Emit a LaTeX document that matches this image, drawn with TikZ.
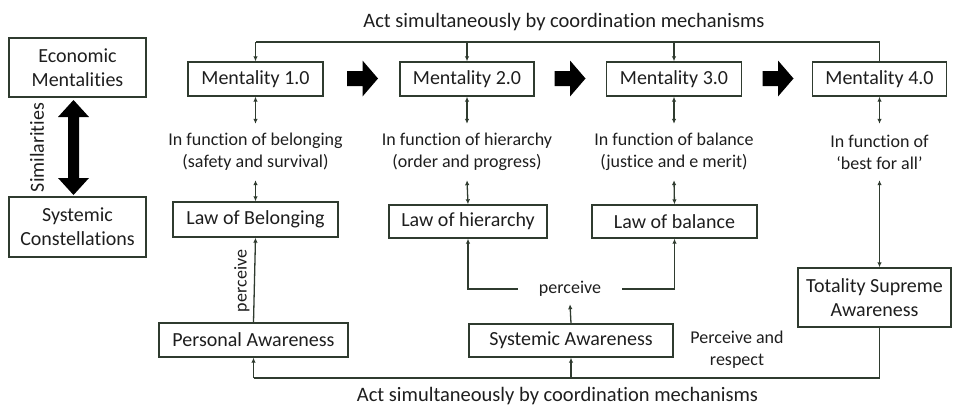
\documentclass[tikz,border=0pt]{standalone}
\usepackage{fontspec}
\setmainfont{Carlito}[Ligatures=NoCommon]
\usetikzlibrary{arrows.meta}
\definecolor{lc}{HTML}{2F3B2F}
\definecolor{tc}{HTML}{1E1E1E}
\begin{document}
\begin{tikzpicture}[x=1pt,y=-1pt,
  box/.style={draw=lc, line width=1.4pt, inner sep=0pt, align=center, text=tc, font=\fontsize{20}{24}\selectfont},
  lbl/.style={inner sep=0pt, align=center, text=tc, font=\fontsize{18}{22}\selectfont},
  conn/.style={draw=lc, line width=1.3pt},
  tip/.style={-{Latex[length=5pt,width=4.5pt]}},
  dtip/.style={{Latex[length=5pt,width=4.5pt]}-{Latex[length=5pt,width=4.5pt]}},
  blockarr/.pic={\fill[black] (-15.5,-7.5) -- (0,-7.5) -- (0,-18) -- (15.5,0) -- (0,18) -- (0,7.5) -- (-15.5,7.5) -- cycle;},
  dblarr/.pic={\fill[black] (0,-47.5) -- (15.5,-30.5) -- (5.5,-30.5) -- (5.5,30.5) -- (15.5,30.5) -- (0,47.5) -- (-15.5,30.5) -- (-5.5,30.5) -- (-5.5,-30.5) -- (-15.5,-30.5) -- cycle;}
]
\useasboundingbox (0,0) rectangle (953,407);
% left column
\node[box, minimum width=137pt, minimum height=59pt] (EM) at (77.5,67.5) {Economic\\Mentalities};
\node[box, minimum width=137pt, minimum height=60pt] (SC) at (77.5,227) {Systemic\\Constellations};
\pic at (73.5,147.5) {dblarr};
\node[lbl, font=\fontsize{20}{24}\selectfont, rotate=90] (SIM) at (37,147.5) {Similarities};
% mentalities
\node[box, minimum width=135pt, minimum height=34pt] (M1) at (255.5,79) {Mentality 1.0};
\node[box, minimum width=134pt, minimum height=34pt] (M2) at (467,79) {Mentality 2.0};
\node[box, minimum width=135pt, minimum height=34pt] (M3) at (674,79) {Mentality 3.0};
\node[box, minimum width=134pt, minimum height=34pt] (M4) at (879.5,79) {Mentality 4.0};
\pic at (362.5,78.5) {blockarr};
\pic at (570,78.5) {blockarr};
\pic at (778,78.5) {blockarr};
% functions
\node[lbl, minimum height=56pt] (F1) at (255.5,152) {In function of belonging\\(safety and survival)};
\node[lbl, minimum height=56pt] (F2) at (467,152) {In function of hierarchy\\(order and progress)};
\node[lbl, minimum height=56pt] (F3) at (674,152) {In function of balance\\(justice and e merit)};
\node[lbl, minimum height=56pt] (F4) at (879.5,152) {In function of\\‘best for all’};
% laws
\node[box, minimum width=165pt, minimum height=35pt] (LB) at (255.5,219.5) {Law of Belonging};
\node[box, minimum width=158pt, minimum height=33pt] (LH) at (468,221.5) {Law of hierarchy};
\node[box, minimum width=165pt, minimum height=33pt] (LL) at (674.5,221.5) {Law of balance};
% awareness
\node[box, minimum width=189pt, minimum height=34pt] (PA) at (253.5,340) {Personal Awareness};
\node[box, minimum width=204pt, minimum height=33pt] (SA) at (571,340.5) {Systemic Awareness};
\node[box, minimum width=153pt, minimum height=59pt] (TS) at (874.5,297.5) {Totality Supreme\\Awareness};
% labels
\node[lbl, font=\fontsize{20.5}{24}\selectfont] (TOP) at (564,22) {Act simultaneously by coordination mechanisms};
\node[lbl, font=\fontsize{20.5}{24}\selectfont] (BOT) at (557.5,396) {Act simultaneously by coordination mechanisms};
\node[lbl, rotate=90] (P1) at (242,281) {perceive};
\node[lbl, inner xsep=21pt, minimum height=30pt] (P2) at (570,289) {perceive};
\node[lbl] (PR) at (737,350) {Perceive and\\respect};
\coordinate (tl) at (560,42);
\coordinate (bl) at (560,378);
% connectors top
\draw[conn] (M4.north) -- (M4.north |- tl) -- (M1.north |- tl);
\draw[conn, tip] (M1.north |- tl) -- (M1.north);
\draw[conn, tip] (M2.north |- tl) -- (M2.north);
\draw[conn, tip] (M3.north |- tl) -- (M3.north);
% mentality <-> function <-> law
\draw[conn, dtip] (M1.south) -- (F1.north);
\draw[conn, dtip] (M2.south) -- (F2.north);
\draw[conn, dtip] (M3.south) -- (F3.north);
\draw[conn, dtip] (M4.south) -- (F4.north);
\draw[conn, dtip] (F1.south) -- (LB.north);
\draw[conn, dtip] (F2.south) -- (LH.north);
\draw[conn, dtip] (F3.south) -- (LL.north);
\draw[conn, dtip] (F4.south) -- (F4.south |- TS.north);
% perceive
\draw[conn, tip] (PA.north) -- (LB.south);
\draw[conn, tip] (SA.north) -- (P2.south);
\draw[conn, tip] (P2.west) -| (LH.south);
\draw[conn, tip] (P2.east) -| (LL.south);
% bottom
\draw[conn] (F4.south |- TS.south) -- (F4.south |- bl) -- (PA.south |- bl);
\draw[conn, tip] (PA.south |- bl) -- (PA.south);
\draw[conn, tip] (SA.south |- bl) -- (SA.south);
\end{tikzpicture}
\end{document}
